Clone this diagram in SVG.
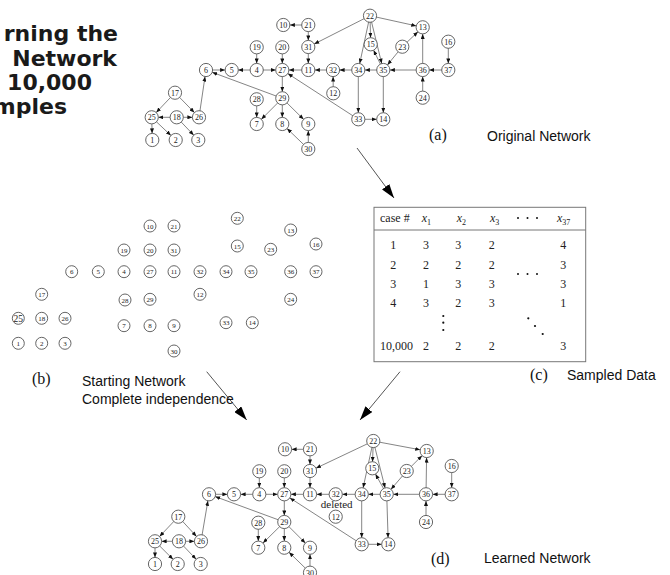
<svg xmlns="http://www.w3.org/2000/svg" width="670" height="575" viewBox="0 0 670 575">
  <style>
    .title { font-family: "DejaVu Sans", Verdana, sans-serif; font-weight: bold; font-size: 22px; fill: #1a1a1a; text-anchor: end; }
    .cap { font-family: "Liberation Sans", Arial, sans-serif; font-size: 14px; fill: #111; }
    .tag { font-family: "Liberation Serif", "Times New Roman", serif; font-size: 16px; fill: #111; }
    .n circle { fill: #fff; stroke: #555; stroke-width: 0.9; }
    .n text { font-family: "Liberation Serif", "Times New Roman", serif; font-size: 8px; fill: #222; text-anchor: middle; }
    .s circle { fill: #fff; stroke: #555; stroke-width: 0.9; }
    .s text { font-family: "Liberation Serif", "Times New Roman", serif; font-size: 7px; fill: #222; text-anchor: middle; }
    .e line { stroke: #666; stroke-width: 0.8; marker-end: url(#ah); }
    .flow line { stroke: #555; stroke-width: 1; marker-end: url(#big); }
    .tbl { font-family: "Liberation Serif", "Times New Roman", serif; font-size: 12px; fill: #222; }
    .tbl .c { text-anchor: middle; }
    .dot { fill: #111; }
  </style>
  <defs>
    <!-- small arrowhead; tip pulled back by the node radius so it touches the circle -->
    <marker id="ah" markerUnits="userSpaceOnUse" markerWidth="5" markerHeight="4" refX="11.6" refY="2" orient="auto">
      <path d="M0,0 L5,2 L0,4 Z" fill="#111"/>
    </marker>
    <marker id="big" markerUnits="userSpaceOnUse" markerWidth="14" markerHeight="9" refX="14" refY="4.5" orient="auto">
      <path d="M0,0 L14,4.5 L0,9 Z" fill="#000"/>
    </marker>
  </defs>

  <!-- title -->
  <g id="title">
    <text class="title" x="118" y="41">rning the</text>
    <text class="title" x="117" y="66">Network</text>
    <text class="title" x="92" y="90">10,000</text>
    <text class="title" x="67" y="114">mples</text>
  </g>

  <!-- panel flow arrows -->
  <g id="flow" class="flow">
    <line x1="357" y1="148" x2="394" y2="198"/>
    <line x1="206.7" y1="371.7" x2="246.7" y2="420"/>
    <line x1="400" y1="371.7" x2="360" y2="420"/>
  </g>

  <!-- (a) original network: connectors -->
  <g id="a-edges" class="e">
    <line x1="308.3" y1="25" x2="283.3" y2="25"/>
    <line x1="308.3" y1="25" x2="308.3" y2="47"/>
    <line x1="370" y1="15.7" x2="308.3" y2="47"/>
    <line x1="308.3" y1="47" x2="308.3" y2="70"/>
    <line x1="256.7" y1="47.3" x2="256.7" y2="70"/>
    <line x1="282.3" y1="47.3" x2="282.3" y2="70"/>
    <line x1="256.7" y1="70" x2="231.7" y2="70"/>
    <line x1="206" y1="70" x2="231.7" y2="70"/>
    <line x1="256.7" y1="70" x2="282.3" y2="70"/>
    <line x1="308.3" y1="70" x2="282.3" y2="70"/>
    <line x1="333" y1="70" x2="308.3" y2="70"/>
    <line x1="358.3" y1="70" x2="333" y2="70"/>
    <line x1="333.3" y1="93.3" x2="333" y2="70"/>
    <line x1="383.3" y1="70" x2="358.3" y2="70"/>
    <line x1="422.7" y1="70" x2="383.3" y2="70"/>
    <line x1="448.3" y1="70" x2="422.7" y2="70"/>
    <line x1="448.3" y1="41.7" x2="448.3" y2="70"/>
    <line x1="422.7" y1="97.7" x2="422.7" y2="70"/>
    <line x1="422.7" y1="70" x2="422.7" y2="27.3"/>
    <line x1="402.3" y1="46.7" x2="422.7" y2="27.3"/>
    <line x1="402.3" y1="46.7" x2="383.3" y2="70"/>
    <line x1="370" y1="15.7" x2="422.7" y2="27.3"/>
    <line x1="370" y1="15.7" x2="370.7" y2="44.3"/>
    <line x1="370" y1="15.7" x2="358.3" y2="70"/>
    <line x1="370" y1="15.7" x2="383.3" y2="70"/>
    <line x1="383.3" y1="70" x2="370.7" y2="44.3"/>
    <line x1="358.3" y1="70" x2="358.3" y2="119.3"/>
    <line x1="383.3" y1="70" x2="383.3" y2="119.3"/>
    <line x1="358.3" y1="119.3" x2="383.3" y2="119.3"/>
    <line x1="358.3" y1="119.3" x2="282.3" y2="70"/>
    <line x1="282.3" y1="70" x2="282.3" y2="98.3"/>
    <line x1="282.3" y1="98.3" x2="206" y2="70"/>
    <line x1="282.3" y1="98.3" x2="256.7" y2="124"/>
    <line x1="282.3" y1="98.3" x2="282.3" y2="124"/>
    <line x1="282.3" y1="98.3" x2="308.3" y2="124"/>
    <line x1="256.7" y1="99.3" x2="256.7" y2="124"/>
    <line x1="308.3" y1="149" x2="282.3" y2="124"/>
    <line x1="308.3" y1="149" x2="308.3" y2="124"/>
    <line x1="175" y1="92.7" x2="151.7" y2="117.3"/>
    <line x1="175" y1="92.7" x2="199" y2="117.3"/>
    <line x1="176.7" y1="117.3" x2="151.7" y2="117.3"/>
    <line x1="176.7" y1="117.3" x2="199" y2="117.3"/>
    <line x1="151.7" y1="117.3" x2="152.3" y2="140"/>
    <line x1="151.7" y1="117.3" x2="175.7" y2="140"/>
    <line x1="176.7" y1="117.3" x2="198.3" y2="140"/>
    <line x1="199" y1="117.3" x2="206" y2="70"/>
  </g>

  <!-- (a) original network: nodes -->
  <g id="a-nodes">
    <g id="a-n10" class="n"><circle cx="283.3" cy="25" r="6.6"/><text x="283.3" y="27.8">10</text></g>
    <g id="a-n21" class="n"><circle cx="308.3" cy="25" r="6.6"/><text x="308.3" y="27.8">21</text></g>
    <g id="a-n31" class="n"><circle cx="308.3" cy="47" r="6.6"/><text x="308.3" y="49.8">31</text></g>
    <g id="a-n19" class="n"><circle cx="256.7" cy="47.3" r="6.6"/><text x="256.7" y="50.1">19</text></g>
    <g id="a-n20" class="n"><circle cx="282.3" cy="47.3" r="6.6"/><text x="282.3" y="50.1">20</text></g>
    <g id="a-n6" class="n"><circle cx="206" cy="70" r="6.6"/><text x="206" y="72.8">6</text></g>
    <g id="a-n5" class="n"><circle cx="231.7" cy="70" r="6.6"/><text x="231.7" y="72.8">5</text></g>
    <g id="a-n4" class="n"><circle cx="256.7" cy="70" r="6.6"/><text x="256.7" y="72.8">4</text></g>
    <g id="a-n27" class="n"><circle cx="282.3" cy="70" r="6.6"/><text x="282.3" y="72.8">27</text></g>
    <g id="a-n11" class="n"><circle cx="308.3" cy="70" r="6.6"/><text x="308.3" y="72.8">11</text></g>
    <g id="a-n17" class="n"><circle cx="175" cy="92.7" r="6.6"/><text x="175" y="95.5">17</text></g>
    <g id="a-n25" class="n"><circle cx="151.7" cy="117.3" r="6.6"/><text x="151.7" y="120.1">25</text></g>
    <g id="a-n18" class="n"><circle cx="176.7" cy="117.3" r="6.6"/><text x="176.7" y="120.1">18</text></g>
    <g id="a-n26" class="n"><circle cx="199" cy="117.3" r="6.6"/><text x="199" y="120.1">26</text></g>
    <g id="a-n1" class="n"><circle cx="152.3" cy="140" r="6.6"/><text x="152.3" y="142.8">1</text></g>
    <g id="a-n2" class="n"><circle cx="175.7" cy="140" r="6.6"/><text x="175.7" y="142.8">2</text></g>
    <g id="a-n3" class="n"><circle cx="198.3" cy="140" r="6.6"/><text x="198.3" y="142.8">3</text></g>
    <g id="a-n28" class="n"><circle cx="256.7" cy="99.3" r="6.6"/><text x="256.7" y="102.1">28</text></g>
    <g id="a-n29" class="n"><circle cx="282.3" cy="98.3" r="6.6"/><text x="282.3" y="101.1">29</text></g>
    <g id="a-n7" class="n"><circle cx="256.7" cy="124" r="6.6"/><text x="256.7" y="126.8">7</text></g>
    <g id="a-n8" class="n"><circle cx="282.3" cy="124" r="6.6"/><text x="282.3" y="126.8">8</text></g>
    <g id="a-n9" class="n"><circle cx="308.3" cy="124" r="6.6"/><text x="308.3" y="126.8">9</text></g>
    <g id="a-n30" class="n"><circle cx="308.3" cy="149" r="6.6"/><text x="308.3" y="151.8">30</text></g>
    <g id="a-n22" class="n"><circle cx="370" cy="15.7" r="6.6"/><text x="370" y="18.5">22</text></g>
    <g id="a-n13" class="n"><circle cx="422.7" cy="27.3" r="6.6"/><text x="422.7" y="30.1">13</text></g>
    <g id="a-n15" class="n"><circle cx="370.7" cy="44.3" r="6.6"/><text x="370.7" y="47.1">15</text></g>
    <g id="a-n23" class="n"><circle cx="402.3" cy="46.7" r="6.6"/><text x="402.3" y="49.5">23</text></g>
    <g id="a-n16" class="n"><circle cx="448.3" cy="41.7" r="6.6"/><text x="448.3" y="44.5">16</text></g>
    <g id="a-n32" class="n"><circle cx="333" cy="70" r="6.6"/><text x="333" y="72.8">32</text></g>
    <g id="a-n34" class="n"><circle cx="358.3" cy="70" r="6.6"/><text x="358.3" y="72.8">34</text></g>
    <g id="a-n35" class="n"><circle cx="383.3" cy="70" r="6.6"/><text x="383.3" y="72.8">35</text></g>
    <g id="a-n36" class="n"><circle cx="422.7" cy="70" r="6.6"/><text x="422.7" y="72.8">36</text></g>
    <g id="a-n37" class="n"><circle cx="448.3" cy="70" r="6.6"/><text x="448.3" y="72.8">37</text></g>
    <g id="a-n12" class="n"><circle cx="333.3" cy="93.3" r="6.6"/><text x="333.3" y="96.1">12</text></g>
    <g id="a-n24" class="n"><circle cx="422.7" cy="97.7" r="6.6"/><text x="422.7" y="100.5">24</text></g>
    <g id="a-n33" class="n"><circle cx="358.3" cy="119.3" r="6.6"/><text x="358.3" y="122.1">33</text></g>
    <g id="a-n14" class="n"><circle cx="383.3" cy="119.3" r="6.6"/><text x="383.3" y="122.1">14</text></g>
  </g>
  <text class="tag" x="429" y="140">(a)</text>
  <text class="cap" x="487" y="141">Original Network</text>

  <!-- (b) starting network: unconnected nodes -->
  <g id="b-nodes">
    <g id="b-n10" class="s"><circle cx="150" cy="226" r="6"/><text x="150" y="228.5">10</text></g>
    <g id="b-n21" class="s"><circle cx="174" cy="226" r="6"/><text x="174" y="228.5">21</text></g>
    <g id="b-n19" class="s"><circle cx="124" cy="250" r="6"/><text x="124" y="252.5">19</text></g>
    <g id="b-n20" class="s"><circle cx="150" cy="250" r="6"/><text x="150" y="252.5">20</text></g>
    <g id="b-n31" class="s"><circle cx="174" cy="250" r="6"/><text x="174" y="252.5">31</text></g>
    <g id="b-n6" class="s"><circle cx="71.7" cy="271.7" r="6"/><text x="71.7" y="274.2">6</text></g>
    <g id="b-n5" class="s"><circle cx="98.3" cy="271.7" r="6"/><text x="98.3" y="274.2">5</text></g>
    <g id="b-n4" class="s"><circle cx="124" cy="271.7" r="6"/><text x="124" y="274.2">4</text></g>
    <g id="b-n27" class="s"><circle cx="150" cy="271.7" r="6"/><text x="150" y="274.2">27</text></g>
    <g id="b-n11" class="s"><circle cx="174" cy="271.7" r="6"/><text x="174" y="274.2">11</text></g>
    <g id="b-n17" class="s"><circle cx="41.7" cy="294.3" r="6"/><text x="41.7" y="296.8">17</text></g>
    <g id="b-n28" class="s"><circle cx="125" cy="300" r="6"/><text x="125" y="302.5">28</text></g>
    <g id="b-n29" class="s"><circle cx="150" cy="299.3" r="6"/><text x="150" y="301.8">29</text></g>
    <g id="b-n25" class="s"><circle cx="18.3" cy="318.3" r="6"/><text x="18.3" y="321.6" style="font-size:9.5px">25</text></g>
    <g id="b-n18" class="s"><circle cx="41.7" cy="318.3" r="6"/><text x="41.7" y="320.8">18</text></g>
    <g id="b-n26" class="s"><circle cx="65" cy="318.3" r="6"/><text x="65" y="320.8">26</text></g>
    <g id="b-n7" class="s"><circle cx="124" cy="325.7" r="6"/><text x="124" y="328.2">7</text></g>
    <g id="b-n8" class="s"><circle cx="150" cy="325.7" r="6"/><text x="150" y="328.2">8</text></g>
    <g id="b-n9" class="s"><circle cx="174" cy="325.7" r="6"/><text x="174" y="328.2">9</text></g>
    <g id="b-n1" class="s"><circle cx="18.3" cy="343.3" r="6"/><text x="18.3" y="345.8">1</text></g>
    <g id="b-n2" class="s"><circle cx="41.7" cy="343.3" r="6"/><text x="41.7" y="345.8">2</text></g>
    <g id="b-n3" class="s"><circle cx="65" cy="343.3" r="6"/><text x="65" y="345.8">3</text></g>
    <g id="b-n30" class="s"><circle cx="174" cy="351" r="6"/><text x="174" y="353.5">30</text></g>
    <g id="b-n22" class="s"><circle cx="237.3" cy="218.3" r="6"/><text x="237.3" y="220.8">22</text></g>
    <g id="b-n13" class="s"><circle cx="290.7" cy="230" r="6"/><text x="290.7" y="232.5">13</text></g>
    <g id="b-n15" class="s"><circle cx="237.3" cy="246" r="6"/><text x="237.3" y="248.5">15</text></g>
    <g id="b-n23" class="s"><circle cx="270.7" cy="249.3" r="6"/><text x="270.7" y="251.8">23</text></g>
    <g id="b-n16" class="s"><circle cx="316" cy="244" r="6"/><text x="316" y="246.5">16</text></g>
    <g id="b-n32" class="s"><circle cx="200" cy="271.7" r="6"/><text x="200" y="274.2">32</text></g>
    <g id="b-n34" class="s"><circle cx="226" cy="271.7" r="6"/><text x="226" y="274.2">34</text></g>
    <g id="b-n35" class="s"><circle cx="251" cy="271.7" r="6"/><text x="251" y="274.2">35</text></g>
    <g id="b-n36" class="s"><circle cx="290.7" cy="271.7" r="6"/><text x="290.7" y="274.2">36</text></g>
    <g id="b-n37" class="s"><circle cx="316" cy="271.7" r="6"/><text x="316" y="274.2">37</text></g>
    <g id="b-n12" class="s"><circle cx="200" cy="294.3" r="6"/><text x="200" y="296.8">12</text></g>
    <g id="b-n24" class="s"><circle cx="290.7" cy="299.3" r="6"/><text x="290.7" y="301.8">24</text></g>
    <g id="b-n33" class="s"><circle cx="226" cy="322.7" r="6"/><text x="226" y="325.2">33</text></g>
    <g id="b-n14" class="s"><circle cx="252.3" cy="322.7" r="6"/><text x="252.3" y="325.2">14</text></g>
  </g>
  <text class="tag" x="32" y="384">(b)</text>
  <text class="cap" x="82" y="386">Starting Network</text>
  <text class="cap" x="82" y="404">Complete independence</text>

  <!-- (c) sampled data table -->
  <g id="table" class="tbl">
    <rect x="374" y="207.3" width="211.7" height="154.4" fill="#fff" stroke="#777" stroke-width="1"/>
    <line x1="374" y1="230" x2="585.7" y2="230" stroke="#777" stroke-width="1"/>
    <text x="380" y="222">case #</text>
    <text x="421.7" y="222" font-style="italic">x<tspan font-size="8" font-style="normal" dy="3">1</tspan></text>
    <text x="456.7" y="222" font-style="italic">x<tspan font-size="8" font-style="normal" dy="3">2</tspan></text>
    <text x="490" y="222" font-style="italic">x<tspan font-size="8" font-style="normal" dy="3">3</tspan></text>
    <text x="557" y="222" font-style="italic">x<tspan font-size="8" font-style="normal" dy="3">37</tspan></text>
    <circle class="dot" cx="518" cy="218" r="1"/>
    <circle class="dot" cx="527.5" cy="218" r="1"/>
    <circle class="dot" cx="537" cy="218" r="1"/>

    <text class="c" x="393.3" y="249">1</text>
    <text class="c" x="426" y="249">3</text>
    <text class="c" x="458.3" y="249">3</text>
    <text class="c" x="491.7" y="249">2</text>
    <text class="c" x="563.3" y="249">4</text>

    <text class="c" x="393.3" y="269">2</text>
    <text class="c" x="426" y="269">2</text>
    <text class="c" x="458.3" y="269">2</text>
    <text class="c" x="491.7" y="269">2</text>
    <text class="c" x="563.3" y="269">3</text>

    <circle class="dot" cx="518" cy="274" r="1"/>
    <circle class="dot" cx="527.5" cy="274" r="1"/>
    <circle class="dot" cx="537" cy="274" r="1"/>

    <text class="c" x="393.3" y="288">3</text>
    <text class="c" x="426" y="288">1</text>
    <text class="c" x="458.3" y="288">3</text>
    <text class="c" x="491.7" y="288">3</text>
    <text class="c" x="563.3" y="288">3</text>

    <text class="c" x="393.3" y="307">4</text>
    <text class="c" x="426" y="307">3</text>
    <text class="c" x="458.3" y="307">2</text>
    <text class="c" x="491.7" y="307">3</text>
    <text class="c" x="563.3" y="307">1</text>

    <circle class="dot" cx="443.3" cy="316" r="1.1"/>
    <circle class="dot" cx="443.3" cy="322.7" r="1.1"/>
    <circle class="dot" cx="443.3" cy="330" r="1.1"/>
    <circle class="dot" cx="528.3" cy="318.3" r="1.1"/>
    <circle class="dot" cx="535" cy="326" r="1.1"/>
    <circle class="dot" cx="542.7" cy="334" r="1.1"/>

    <text x="380" y="350">10,000</text>
    <text class="c" x="426" y="350">2</text>
    <text class="c" x="458.3" y="350">2</text>
    <text class="c" x="491.7" y="350">2</text>
    <text class="c" x="563.3" y="350">3</text>
  </g>
  <text class="tag" x="530" y="380">(c)</text>
  <text class="cap" x="567" y="380">Sampled Data</text>

  <!-- (d) learned network: connectors -->
  <g id="d-edges" class="e">
    <line x1="310" y1="449.3" x2="285" y2="449.3"/>
    <line x1="310" y1="449.3" x2="310" y2="471"/>
    <line x1="373.3" y1="441" x2="310" y2="471"/>
    <line x1="310" y1="471" x2="310" y2="494.3"/>
    <line x1="259.3" y1="471.3" x2="259.3" y2="494.3"/>
    <line x1="284.3" y1="471.3" x2="284.3" y2="494.3"/>
    <line x1="259.3" y1="494.3" x2="234" y2="494.3"/>
    <line x1="209" y1="494.3" x2="234" y2="494.3"/>
    <line x1="259.3" y1="494.3" x2="284.3" y2="494.3"/>
    <line x1="310" y1="494.3" x2="284.3" y2="494.3"/>
    <line x1="335.7" y1="494.3" x2="310" y2="494.3"/>
    <line x1="361.7" y1="494.3" x2="335.7" y2="494.3"/>
    <line x1="386.7" y1="494.3" x2="361.7" y2="494.3"/>
    <line x1="426" y1="494.3" x2="386.7" y2="494.3"/>
    <line x1="451.7" y1="494.3" x2="426" y2="494.3"/>
    <line x1="451.7" y1="466" x2="451.7" y2="494.3"/>
    <line x1="426" y1="522" x2="426" y2="494.3"/>
    <line x1="426" y1="494.3" x2="426.7" y2="451"/>
    <line x1="406.7" y1="471" x2="426.7" y2="451"/>
    <line x1="406.7" y1="471" x2="386.7" y2="494.3"/>
    <line x1="373.3" y1="441" x2="426.7" y2="451"/>
    <line x1="373.3" y1="441" x2="372.3" y2="468.3"/>
    <line x1="373.3" y1="441" x2="361.7" y2="494.3"/>
    <line x1="373.3" y1="441" x2="386.7" y2="494.3"/>
    <line x1="386.7" y1="494.3" x2="372.3" y2="468.3"/>
    <line x1="361.7" y1="494.3" x2="361.7" y2="544.3"/>
    <line x1="386.7" y1="494.3" x2="388.3" y2="544.3"/>
    <line x1="361.7" y1="544.3" x2="388.3" y2="544.3"/>
    <line x1="361.7" y1="544.3" x2="284.3" y2="494.3"/>
    <line x1="284.3" y1="494.3" x2="284.3" y2="522"/>
    <line x1="284.3" y1="522" x2="209" y2="494.3"/>
    <line x1="284.3" y1="522" x2="258.3" y2="547.7"/>
    <line x1="284.3" y1="522" x2="284.3" y2="547.7"/>
    <line x1="284.3" y1="522" x2="310" y2="547.7"/>
    <line x1="258.3" y1="522.7" x2="258.3" y2="547.7"/>
    <line x1="310" y1="572.7" x2="284.3" y2="547.7"/>
    <line x1="310" y1="572.7" x2="310" y2="547.7"/>
    <line x1="178.3" y1="516.7" x2="155" y2="541.3"/>
    <line x1="178.3" y1="516.7" x2="201" y2="541.3"/>
    <line x1="179" y1="541.3" x2="155" y2="541.3"/>
    <line x1="179" y1="541.3" x2="201" y2="541.3"/>
    <line x1="155" y1="541.3" x2="155" y2="564"/>
    <line x1="155" y1="541.3" x2="177.7" y2="564"/>
    <line x1="179" y1="541.3" x2="200.7" y2="564"/>
    <line x1="201" y1="541.3" x2="209" y2="494.3"/>
  </g>

  <!-- (d) learned network: nodes -->
  <g id="d-nodes">
    <g id="d-n10" class="n"><circle cx="285" cy="449.3" r="6.6"/><text x="285" y="452.1">10</text></g>
    <g id="d-n21" class="n"><circle cx="310" cy="449.3" r="6.6"/><text x="310" y="452.1">21</text></g>
    <g id="d-n31" class="n"><circle cx="310" cy="471" r="6.6"/><text x="310" y="473.8">31</text></g>
    <g id="d-n19" class="n"><circle cx="259.3" cy="471.3" r="6.6"/><text x="259.3" y="474.1">19</text></g>
    <g id="d-n20" class="n"><circle cx="284.3" cy="471.3" r="6.6"/><text x="284.3" y="474.1">20</text></g>
    <g id="d-n6" class="n"><circle cx="209" cy="494.3" r="6.6"/><text x="209" y="497.1">6</text></g>
    <g id="d-n5" class="n"><circle cx="234" cy="494.3" r="6.6"/><text x="234" y="497.1">5</text></g>
    <g id="d-n4" class="n"><circle cx="259.3" cy="494.3" r="6.6"/><text x="259.3" y="497.1">4</text></g>
    <g id="d-n27" class="n"><circle cx="284.3" cy="494.3" r="6.6"/><text x="284.3" y="497.1">27</text></g>
    <g id="d-n11" class="n"><circle cx="310" cy="494.3" r="6.6"/><text x="310" y="497.1">11</text></g>
    <g id="d-n17" class="n"><circle cx="178.3" cy="516.7" r="6.6"/><text x="178.3" y="519.5">17</text></g>
    <g id="d-n25" class="n"><circle cx="155" cy="541.3" r="6.6"/><text x="155" y="544.1">25</text></g>
    <g id="d-n18" class="n"><circle cx="179" cy="541.3" r="6.6"/><text x="179" y="544.1">18</text></g>
    <g id="d-n26" class="n"><circle cx="201" cy="541.3" r="6.6"/><text x="201" y="544.1">26</text></g>
    <g id="d-n1" class="n"><circle cx="155" cy="564" r="6.6"/><text x="155" y="566.8">1</text></g>
    <g id="d-n2" class="n"><circle cx="177.7" cy="564" r="6.6"/><text x="177.7" y="566.8">2</text></g>
    <g id="d-n3" class="n"><circle cx="200.7" cy="564" r="6.6"/><text x="200.7" y="566.8">3</text></g>
    <g id="d-n28" class="n"><circle cx="258.3" cy="522.7" r="6.6"/><text x="258.3" y="525.5">28</text></g>
    <g id="d-n29" class="n"><circle cx="284.3" cy="522" r="6.6"/><text x="284.3" y="524.8">29</text></g>
    <g id="d-n7" class="n"><circle cx="258.3" cy="547.7" r="6.6"/><text x="258.3" y="550.5">7</text></g>
    <g id="d-n8" class="n"><circle cx="284.3" cy="547.7" r="6.6"/><text x="284.3" y="550.5">8</text></g>
    <g id="d-n9" class="n"><circle cx="310" cy="547.7" r="6.6"/><text x="310" y="550.5">9</text></g>
    <g id="d-n30" class="n"><circle cx="310" cy="572.7" r="6.6"/><text x="310" y="575.5">30</text></g>
    <g id="d-n22" class="n"><circle cx="373.3" cy="441" r="6.6"/><text x="373.3" y="443.8">22</text></g>
    <g id="d-n13" class="n"><circle cx="426.7" cy="451" r="6.6"/><text x="426.7" y="453.8">13</text></g>
    <g id="d-n15" class="n"><circle cx="372.3" cy="468.3" r="6.6"/><text x="372.3" y="471.1">15</text></g>
    <g id="d-n23" class="n"><circle cx="406.7" cy="471" r="6.6"/><text x="406.7" y="473.8">23</text></g>
    <g id="d-n16" class="n"><circle cx="451.7" cy="466" r="6.6"/><text x="451.7" y="468.8">16</text></g>
    <g id="d-n32" class="n"><circle cx="335.7" cy="494.3" r="6.6"/><text x="335.7" y="497.1">32</text></g>
    <g id="d-n34" class="n"><circle cx="361.7" cy="494.3" r="6.6"/><text x="361.7" y="497.1">34</text></g>
    <g id="d-n35" class="n"><circle cx="386.7" cy="494.3" r="6.6"/><text x="386.7" y="497.1">35</text></g>
    <g id="d-n36" class="n"><circle cx="426" cy="494.3" r="6.6"/><text x="426" y="497.1">36</text></g>
    <g id="d-n37" class="n"><circle cx="451.7" cy="494.3" r="6.6"/><text x="451.7" y="497.1">37</text></g>
    <g id="d-n12" class="n"><circle cx="335.7" cy="516.7" r="6.6"/><text x="335.7" y="519.5">12</text></g>
    <g id="d-n24" class="n"><circle cx="426" cy="522" r="6.6"/><text x="426" y="524.8">24</text></g>
    <g id="d-n33" class="n"><circle cx="361.7" cy="544.3" r="6.6"/><text x="361.7" y="547.1">33</text></g>
    <g id="d-n14" class="n"><circle cx="388.3" cy="544.3" r="6.6"/><text x="388.3" y="547.1">14</text></g>
  </g>
  <text x="336.7" y="508" style="font-family:'Liberation Serif','Times New Roman',serif;font-size:11px;fill:#222;text-anchor:middle">deleted</text>
  <text class="tag" x="431" y="564">(d)</text>
  <text class="cap" x="484" y="563">Learned Network</text>
</svg>
